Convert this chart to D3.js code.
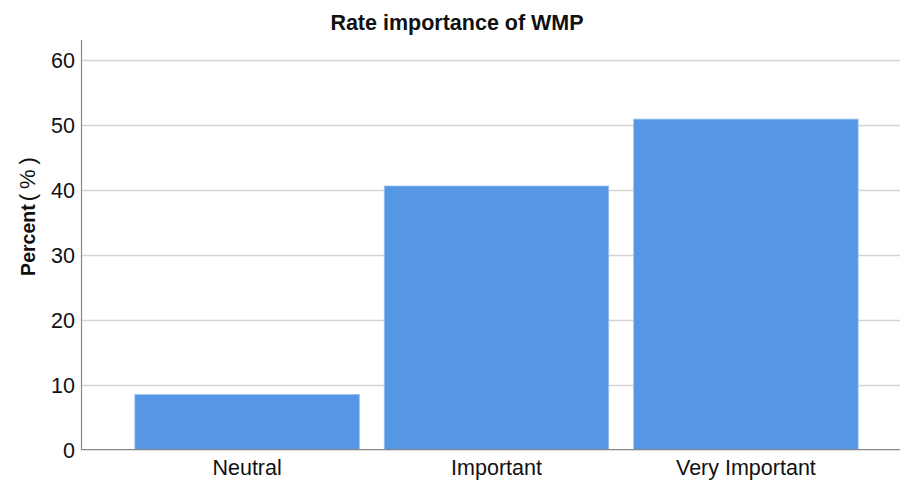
<!DOCTYPE html>
<html>
<head>
<meta charset="utf-8">
<script src="https://cdn.jsdelivr.net/npm/d3@7"></script>
<style>
  html, body { margin: 0; padding: 0; background: #fff; }
  svg { display: block; }
</style>
</head>
<body>
<svg id="chart" width="901" height="481"></svg>
<script>
const categories = ["Neutral", "Important", "Very Important"];
const percents = [8.5, 40.6, 50.9];
const yTicks = [0, 10, 20, 30, 40, 50, 60];
const titleText = "Rate importance of WMP";

const svg = d3.select("#chart");
const font = "'Liberation Sans', Arial, sans-serif";

const plotLeft = 81, plotRight = 900, plotTop = 40, plotBottom = 449.7;

const y = d3.scaleLinear().domain([0, 60]).range([plotBottom, 60]);
const x = d3.scaleBand().domain(categories).range([plotLeft, 912])
  .paddingInner(0.1).paddingOuter(0.216);

// gridlines
svg.append("g").selectAll("line").data(yTicks.filter(d => d > 0)).join("line")
  .attr("x1", plotLeft).attr("x2", plotRight)
  .attr("y1", d => Math.round(y(d)) + 0.5).attr("y2", d => Math.round(y(d)) + 0.5)
  .attr("stroke", "#d4d4d4").attr("stroke-width", 1.5);

// bars
svg.append("g").selectAll("rect").data(percents).join("rect")
  .attr("x", (d, i) => x(categories[i]))
  .attr("y", d => y(d))
  .attr("width", x.bandwidth())
  .attr("height", d => y(0) - y(d))
  .attr("fill", "#5596e5")
  .attr("stroke", "#9cc1f0")
  .attr("stroke-width", 0.8);

// y axis
const yAxis = d3.axisLeft(y).tickValues(yTicks).tickSize(0).tickPadding(6).tickFormat(d3.format("d"));
const gy = svg.append("g").attr("transform", `translate(${plotLeft},0)`).call(yAxis);
gy.select(".domain").remove();
gy.selectAll("text").attr("font-family", font).attr("font-size", 21.5).attr("fill", "#111").attr("dy", "0.36em");
svg.append("line").attr("x1", plotLeft + 0.5).attr("x2", plotLeft + 0.5)
  .attr("y1", plotTop).attr("y2", plotBottom).attr("stroke", "#888").attr("stroke-width", 1.2);

// x axis
const xAxis = d3.axisBottom(x).tickSize(0).tickPadding(10.5);
const gx = svg.append("g").attr("transform", `translate(0,${plotBottom})`).call(xAxis);
gx.select(".domain").remove();
gx.selectAll("text").attr("font-family", font).attr("font-size", 21.5).attr("fill", "#111");
svg.append("line").attr("x1", plotLeft).attr("x2", plotRight)
  .attr("y1", plotBottom).attr("y2", plotBottom).attr("stroke", "#888").attr("stroke-width", 1.2);

// title
svg.append("text").attr("x", 457).attr("y", 30).attr("text-anchor", "middle")
  .attr("font-family", font).attr("font-weight", "bold").attr("font-size", 21.5).attr("fill", "#111")
  .text(titleText);

// y label
const yl = svg.append("text").attr("transform", "translate(35,214) rotate(-90)")
  .attr("text-anchor", "middle").attr("font-family", font).attr("fill", "#111");
yl.append("tspan").attr("font-weight", "bold").attr("font-size", 19.5).text("Percent");
yl.append("tspan").attr("font-size", 22).attr("letter-spacing", 5).attr("dx", 3).text("(%)");
</script>
</body>
</html>
